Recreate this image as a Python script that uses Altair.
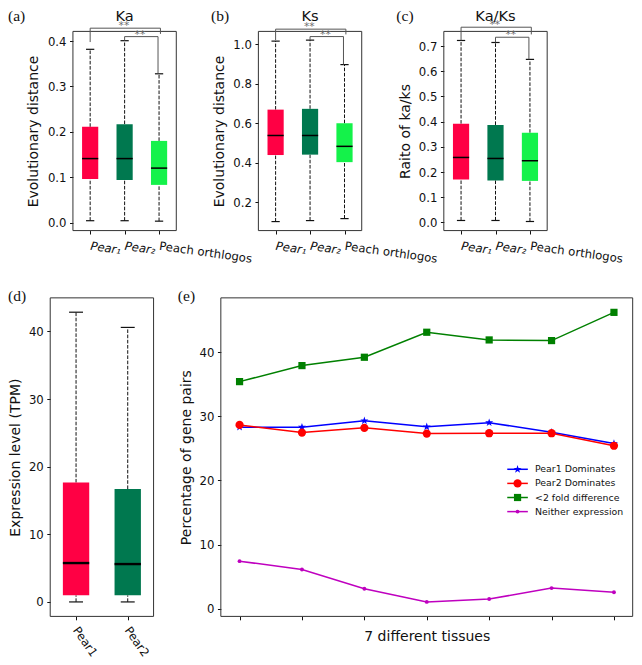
import json
import altair as alt
import pandas as pd

# ---------------- values ----------------
box_names = ["Pear1", "Pear2", "Peach orthlogos"]
box_tick_labels = ["Pear\u2081", "Pear\u2082", "Peach orthlogos"]
box_colors = ["#FF0044", "#00784F", "#14F24A"]

ka_low = [0.004, 0.004, 0.003]
ka_q1 = [0.096, 0.094, 0.083]
ka_med = [0.141, 0.141, 0.120]
ka_q3 = [0.211, 0.217, 0.180]
ka_high = [0.382, 0.401, 0.328]

ks_low = [0.101, 0.106, 0.116]
ks_q1 = [0.438, 0.440, 0.402]
ks_med = [0.537, 0.537, 0.482]
ks_q3 = [0.668, 0.672, 0.599]
ks_high = [1.015, 1.020, 0.896]

kaks_low = [0.008, 0.008, 0.004]
kaks_q1 = [0.171, 0.167, 0.165]
kaks_med = [0.258, 0.254, 0.245]
kaks_q3 = [0.392, 0.387, 0.356]
kaks_high = [0.722, 0.714, 0.647]

# significance brackets: Pear1 vs Peach (outer) and Pear2 vs Peach (inner)
bracket_pairs = [(1, 3), (2, 3)]
bracket_text = ["**", "**"]
ka_bar = [0.4286, 0.410]
ka_drop_left = [0.398, 0.401]
ka_drop_right = [0.416, 0.329]
ks_bar = [1.0756, 1.038]
ks_drop_left = [1.020, 1.020]
ks_drop_right = [1.049, 0.896]
kaks_bar = [0.7746, 0.7348]
kaks_drop_left = [0.722, 0.714]
kaks_drop_right = [0.746, 0.647]

tpm_names = ["Pear1", "Pear2"]
tpm_colors = ["#FF0044", "#00784F"]
tpm_low = [0.0, 0.0]
tpm_q1 = [0.97, 0.97]
tpm_med = [5.75, 5.6]
tpm_q3 = [17.66, 16.7]
tpm_high = [42.85, 40.6]

tissue_index = [0, 1, 2, 3, 4, 5, 6]
series_names = ["Pear1 Dominates", "Pear2 Dominates", "<2 fold difference", "Neither expression"]
series_colors = ["#0000FF", "#FF0000", "#008000", "#BF00BF"]
pear1_dominates = [28.3, 28.3, 29.3, 28.35, 29.0, 27.5, 25.75]
pear2_dominates = [28.65, 27.45, 28.2, 27.3, 27.35, 27.35, 25.4]
fold_lt2 = [35.4, 37.9, 39.2, 43.1, 41.9, 41.8, 46.2]
neither_expr = [7.4, 6.1, 3.1, 1.05, 1.5, 3.2, 2.55]

# ---------------- layout & style ----------------
S = 0.975
W, H = 626, 654
FONT = "DejaVu Sans"
SERIF = "Liberation Serif"
INK = "#111111"
FRAME = "#333333"
BRACKET = "#555555"
STARC = "#707070"
TICK_FS = 11.7
TITLE_FS = 14.0
HEAD_FS = 14.6
LETTER_FS = 15.5
DASH = [3.6, 1.6]
STAR_PATH = ("M0,-1L0.2245,-0.309L0.9511,-0.309L0.3633,0.118L0.5878,0.809L0,0.382"
             "L-0.5878,0.809L-0.3633,0.118L-0.9511,-0.309L-0.2245,-0.309Z")
SERIES_SHAPES = [STAR_PATH, "circle", "square", "circle"]
SERIES_SIZES = [72, 68, 52, 15]

# frames in reference pixels: left, right, top, bottom
FRAME_A = (66.6, 172.6, 24.0, 228.3)
FRAME_B = (256.8, 362.8, 24.0, 228.3)
FRAME_C = (447.0, 553.0, 24.0, 228.3)
FRAME_D = (43.3, 149.3, 297.3, 624.0)
FRAME_E = (218.3, 640.7, 297.3, 624.0)


def px(v):
    return v * S


def ranges(frame):
    left, right, top, bottom = frame
    return [px(left), px(right)], [px(bottom), px(top)]


def frame_layer(xs, ys, xdom, ydom):
    df = pd.DataFrame({"fx0": [xdom[0]], "fx1": [xdom[1]], "fy0": [ydom[0]], "fy1": [ydom[1]]})
    return alt.Chart(df).mark_rect(fillOpacity=0, stroke=FRAME, strokeWidth=1).encode(
        x=alt.X("fx0:Q", scale=xs, axis=None), x2="fx1:Q",
        y=alt.Y("fy0:Q", scale=ys, axis=None), y2="fy1:Q")


def box_panel(frame, names, tick_labels, colors, low, q1, med, q3, high,
              ydom, yticks, yfmt, ytitle, title_dx, hw, cw, med_w,
              lab_angle, lab_pad, lab_off, lab_style,
              bar=None, drop_l=None, drop_r=None):
    n = len(names)
    xdom = [0.5, n + 0.5]
    xr, yr = ranges(frame)
    xs = alt.Scale(domain=xdom, range=xr, nice=False, zero=False)
    ys = alt.Scale(domain=ydom, range=yr, nice=False, zero=False)
    cs = alt.Scale(domain=names, range=colors)
    df = pd.DataFrame({"name": names, "pos": list(range(1, n + 1)), "low": low,
                       "q1": q1, "med": med, "q3": q3, "high": high})
    base = alt.Chart(df).transform_calculate(
        bx0=f"datum.pos - {hw}", bx1=f"datum.pos + {hw}",
        cx0=f"datum.pos - {cw}", cx1=f"datum.pos + {cw}")
    label_expr = json.dumps([""] + tick_labels, ensure_ascii=False) + "[datum.value]"
    xaxis = alt.Axis(orient="bottom", offset=yr[0] - H, values=list(range(1, n + 1)),
                     labelExpr=label_expr, title=None, domain=False, grid=False, ticks=True,
                     tickSize=px(3.5), tickColor=INK, tickWidth=1,
                     labelAngle=lab_angle, labelAlign="left", labelBaseline="top",
                     labelPadding=lab_pad, labelOffset=lab_off, labelFont=FONT,
                     labelFontSize=TICK_FS, labelColor=INK, labelFontStyle=lab_style,
                     labelFlush=False, labelOverlap=False)
    yaxis = alt.Axis(orient="left", offset=-xr[0], values=yticks, format=yfmt, title=ytitle,
                     domain=False, grid=False, tickSize=px(3.5), tickColor=INK, tickWidth=1,
                     labelPadding=3.5, labelFont=FONT, labelFontSize=TICK_FS, labelColor=INK,
                     labelFlush=False, labelOverlap=False, titleX=title_dx,
                     titleY=(yr[0] + yr[1]) / 2,
                     titleAngle=270, titleAlign="center", titleBaseline="alphabetic",
                     titleFont=FONT, titleFontSize=TITLE_FS, titleFontWeight="normal",
                     titleColor=INK)
    layers = [frame_layer(xs, ys, xdom, ydom)]
    layers.append(base.mark_rule(color=INK, strokeWidth=1, strokeDash=DASH).encode(
        x=alt.X("pos:Q", scale=xs, axis=None), y=alt.Y("q3:Q", scale=ys, axis=None), y2="high:Q"))
    layers.append(base.mark_rule(color=INK, strokeWidth=1, strokeDash=DASH).encode(
        x=alt.X("pos:Q", scale=xs, axis=None), y=alt.Y("low:Q", scale=ys, axis=None), y2="q1:Q"))
    for f in ["high", "low"]:
        layers.append(base.mark_rule(color=INK, strokeWidth=1.2).encode(
            x=alt.X("cx0:Q", scale=xs, axis=None), x2="cx1:Q",
            y=alt.Y(f"{f}:Q", scale=ys, axis=None)))
    layers.append(base.mark_rect().encode(
        x=alt.X("bx0:Q", scale=xs, axis=xaxis), x2="bx1:Q",
        y=alt.Y("q1:Q", scale=ys, axis=yaxis), y2="q3:Q",
        color=alt.Color("name:N", scale=cs, legend=None)))
    layers.append(base.mark_rule(color="black", strokeWidth=med_w).encode(
        x=alt.X("bx0:Q", scale=xs, axis=None), x2="bx1:Q",
        y=alt.Y("med:Q", scale=ys, axis=None)))
    if bar is not None:
        segs, stars = [], []
        for i, (l, r) in enumerate(bracket_pairs):
            xl = l
            xrr = r + (0.04 if i == 0 else -0.03)
            segs.append({"sx": xl, "sx2": xl, "sy": bar[i], "sy2": drop_l[i]})
            segs.append({"sx": xl, "sx2": xrr, "sy": bar[i], "sy2": bar[i]})
            segs.append({"sx": xrr, "sx2": xrr, "sy": bar[i], "sy2": drop_r[i]})
            stars.append({"tx": (xl + xrr) / 2 - 0.04, "ty": bar[i], "txt": bracket_text[i]})
        layers.append(alt.Chart(pd.DataFrame(segs)).mark_rule(color=BRACKET, strokeWidth=1).encode(
            x=alt.X("sx:Q", scale=xs, axis=None), x2="sx2:Q",
            y=alt.Y("sy:Q", scale=ys, axis=None), y2="sy2:Q"))
        layers.append(alt.Chart(pd.DataFrame(stars)).mark_text(
            font=FONT, fontSize=10.7, color=STARC, baseline="alphabetic", dy=1).encode(
            x=alt.X("tx:Q", scale=xs, axis=None), y=alt.Y("ty:Q", scale=ys, axis=None),
            text="txt:N"))
    return layers


italic_pear = {"condition": {"test": "datum.value <= 2", "value": "italic"}, "value": "normal"}

layers_a = box_panel(FRAME_A, box_names, box_tick_labels, box_colors,
                     ka_low, ka_q1, ka_med, ka_q3, ka_high,
                     [-0.0178, 0.4215], [0.0, 0.1, 0.2, 0.3, 0.4], ".1f", "Evolutionary distance",
                     px(-36), 0.235, 0.12, 1.5, 8, 6.3, 0.5, italic_pear,
                     ka_bar, ka_drop_left, ka_drop_right)
layers_b = box_panel(FRAME_B, box_names, box_tick_labels, box_colors,
                     ks_low, ks_q1, ks_med, ks_q3, ks_high,
                     [0.0553, 1.0642], [0.2, 0.4, 0.6, 0.8, 1.0], ".1f", "Evolutionary distance",
                     px(-36), 0.235, 0.12, 1.5, 8, 6.3, 0.5, italic_pear,
                     ks_bar, ks_drop_left, ks_drop_right)
layers_c = box_panel(FRAME_C, box_names, box_tick_labels, box_colors,
                     kaks_low, kaks_q1, kaks_med, kaks_q3, kaks_high,
                     [-0.0321, 0.758], [0.0, 0.1, 0.2, 0.3, 0.4, 0.5, 0.6, 0.7], ".1f",
                     "Raito of ka/ks",
                     px(-35.5), 0.235, 0.12, 1.5, 8, 6.3, 0.5, italic_pear,
                     kaks_bar, kaks_drop_left, kaks_drop_right)
layers_d = box_panel(FRAME_D, tpm_names, tpm_names, tpm_colors,
                     tpm_low, tpm_q1, tpm_med, tpm_q3, tpm_high,
                     [-2.14, 44.97], [0, 10, 20, 30, 40], "d", "Expression level (TPM)",
                     px(-31.6), 0.255, 0.135, 2.4, 55, 4.9, 3.3, "normal")

# ---------------- panel (e) ----------------
E_XDOM = [-0.3, 6.3]
E_YDOM = [-1.21, 48.46]
LEG_TOP, LEG_STEP = 21.73, 2.2
LEG_X0, LEG_X1, LEG_MX, LEG_TX = 4.29, 4.62, 4.455, 4.735


def line_panel():
    xr, yr = ranges(FRAME_E)
    xs = alt.Scale(domain=E_XDOM, range=xr, nice=False, zero=False)
    ys = alt.Scale(domain=E_YDOM, range=yr, nice=False, zero=False)
    cs = alt.Scale(domain=series_names, range=series_colors)
    rows = []
    for name, vals in zip(series_names, [pear1_dominates, pear2_dominates, fold_lt2, neither_expr]):
        for t, v in zip(tissue_index, vals):
            rows.append({"s": name, "t": t, "v": v})
    df = pd.DataFrame(rows)
    xaxis = alt.Axis(orient="bottom", offset=yr[0] - H, values=tissue_index, labels=False,
                     domain=False, grid=False, tickSize=px(3.5), tickColor=INK, tickWidth=1,
                     title="7 different tissues", titleX=(xr[0] + xr[1]) / 2, titleY=px(25),
                     titleAlign="center", titleBaseline="alphabetic", titleAngle=0,
                     titleFont=FONT, titleFontSize=TITLE_FS, titleFontWeight="normal",
                     titleColor=INK)
    yaxis = alt.Axis(orient="left", offset=-xr[0], values=[0, 10, 20, 30, 40], format="d",
                     domain=False, grid=False, tickSize=px(3.5), tickColor=INK, tickWidth=1,
                     labelPadding=3.5, labelFont=FONT, labelFontSize=TICK_FS, labelColor=INK,
                     labelFlush=False, labelOverlap=False, title="Percentage of gene pairs",
                     titleX=px(-31.6), titleY=(yr[0] + yr[1]) / 2, titleAngle=270,
                     titleAlign="center", titleBaseline="alphabetic", titleFont=FONT,
                     titleFontSize=TITLE_FS, titleFontWeight="normal", titleColor=INK)
    layers = [frame_layer(xs, ys, E_XDOM, E_YDOM)]
    layers.append(alt.Chart(df).mark_line(strokeWidth=1.5).encode(
        x=alt.X("t:Q", scale=xs, axis=xaxis), y=alt.Y("v:Q", scale=ys, axis=yaxis),
        color=alt.Color("s:N", scale=cs, legend=None)))
    for name, shp, sz in zip(series_names, SERIES_SHAPES, SERIES_SIZES):
        layers.append(alt.Chart(df).transform_filter(alt.datum.s == name).mark_point(
            filled=True, opacity=1, shape=shp, size=sz).encode(
            x=alt.X("t:Q", scale=xs, axis=None), y=alt.Y("v:Q", scale=ys, axis=None),
            color=alt.Color("s:N", scale=cs, legend=None)))
    # legend, placed in the panel's own data coordinates
    leg = pd.DataFrame({"s": series_names, "i": list(range(len(series_names)))})
    lbase = alt.Chart(leg).transform_calculate(
        ly=f"{LEG_TOP} - datum.i * {LEG_STEP}", lx0=str(LEG_X0), lx1=str(LEG_X1),
        mx=str(LEG_MX), tx=str(LEG_TX))
    layers.append(lbase.mark_rule(strokeWidth=1.5).encode(
        x=alt.X("lx0:Q", scale=xs, axis=None), x2="lx1:Q",
        y=alt.Y("ly:Q", scale=ys, axis=None),
        color=alt.Color("s:N", scale=cs, legend=None)))
    for name, shp, sz in zip(series_names, SERIES_SHAPES, SERIES_SIZES):
        layers.append(lbase.transform_filter(alt.datum.s == name).mark_point(
            filled=True, opacity=1, shape=shp, size=sz).encode(
            x=alt.X("mx:Q", scale=xs, axis=None), y=alt.Y("ly:Q", scale=ys, axis=None),
            color=alt.Color("s:N", scale=cs, legend=None)))
    layers.append(lbase.mark_text(align="left", baseline="middle", font=FONT, fontSize=9.4,
                                  color=INK).encode(
        x=alt.X("tx:Q", scale=xs, axis=None), y=alt.Y("ly:Q", scale=ys, axis=None),
        text="s:N"))
    return layers


layers_e = line_panel()


# ---------------- annotations ----------------
def note(txt, x, y, size, font, align):
    return alt.Chart(pd.DataFrame({"txt": [txt]})).mark_text(
        font=font, fontSize=size, align=align, baseline="alphabetic", color=INK).encode(
        x=alt.value(px(x)), y=alt.value(px(y)), text="txt:N")


notes = [
    note("(a)", 0, 13.8, LETTER_FS, SERIF, "left"),
    note("(b)", 208.3, 13.8, LETTER_FS, SERIF, "left"),
    note("(c)", 398.3, 13.8, LETTER_FS, SERIF, "left"),
    note("(d)", 0, 301, LETTER_FS, SERIF, "left"),
    note("(e)", 174.2, 301, LETTER_FS, SERIF, "left"),
    note("Ka", (FRAME_A[0] + FRAME_A[1]) / 2, 13.6, HEAD_FS, FONT, "center"),
    note("Ks", (FRAME_B[0] + FRAME_B[1]) / 2, 13.6, HEAD_FS, FONT, "center"),
    note("Ka/Ks", (FRAME_C[0] + FRAME_C[1]) / 2, 13.6, HEAD_FS, FONT, "center"),
]

all_layers = layers_a + layers_b + layers_c + layers_d + layers_e + notes

chart = alt.layer(*all_layers).resolve_scale(
    x="independent", y="independent", color="independent"
).properties(
    width=W, height=H, autosize=alt.AutoSizeParams(type="none"), padding=0
).configure_view(stroke=None).configure_axis(grid=False)

chart.save("out.html", embed_options={"renderer": "svg", "actions": False})
